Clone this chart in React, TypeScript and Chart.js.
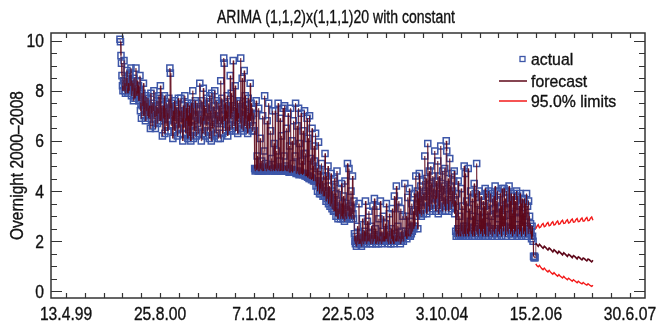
import React, { useEffect, useRef } from 'react';
import { Chart, registerables } from 'chart.js';

Chart.register(...registerables);

// ---------- data ----------
const EPOCH = '1999-04-13'; // day 0 of the x axis
const xTickLabels = ['13.4.99', '25.8.00', '7.1.02', '22.5.03', '3.10.04', '15.2.06', '30.6.07'];
const xLabelEveryDays = 500;
const yTickLabels = ['0', '2', '4', '6', '8', '10'];

const chartTitle = 'ARIMA (1,1,2)x(1,1,1)20 with constant';
const yAxisTitle = 'Overnight 2000\u20132008';

const actualStart = '2000-01-25';
const actualEnd = '2006-02-10';
const forecastStart = '2006-02-14';
const forecastEnd = '2006-12-15';

const actual = [
  10.05, 9.95, 9.4, 9.1, 8.6, 8.2, 8.0, 8.4, 9.2, 8.3, 8.0, 7.9, 8.5, 8.2, 8.8, 8.1, 7.9, 8.3, 8.0, 8.6,
  8.7, 8.2, 8.9, 7.8, 8.4, 8.0, 8.3, 7.6, 8.5, 8.1, 7.7, 8.2, 8.9, 8.0, 7.8, 8.4, 7.9, 8.2, 7.6, 8.0,
  8.6, 7.2, 7.5, 6.9, 7.9, 7.4, 7.6, 8.3, 7.0, 7.3, 7.6, 6.8, 7.8, 7.2, 7.5, 7.0, 7.7, 7.3, 6.9, 7.4,
  7.3, 6.5, 7.9, 7.1, 7.4, 6.6, 7.5, 7.2, 8.0, 6.9, 7.2, 6.5, 7.4, 7.0, 7.6, 6.7, 7.3, 7.1, 7.8, 6.8,
  7.7, 8.2, 6.8, 7.1, 7.4, 6.2, 7.0, 7.4, 6.9, 7.8, 6.3, 7.0, 7.3, 6.6, 7.5, 7.1, 6.4, 7.2, 7.7, 6.9,
  8.9, 8.7, 7.3, 6.6, 7.5, 7.0, 6.1, 7.2, 6.8, 7.6, 6.4, 7.1, 7.4, 6.7, 7.3, 6.2, 7.0, 7.7, 6.5, 7.2,
  7.0, 6.3, 7.7, 6.7, 7.2, 6.9, 6.0, 7.4, 6.5, 7.1, 7.8, 6.9, 6.3, 7.3, 6.8, 7.5, 6.1, 7.0, 6.6, 7.4,
  6.2, 7.1, 6.0, 7.5, 6.6, 7.0, 8.0, 6.1, 7.3, 6.8, 6.4, 7.6, 7.0, 6.2, 7.2, 6.7, 7.5, 6.3, 6.9, 7.3,
  8.3, 6.6, 7.0, 6.0, 7.6, 6.9, 6.3, 8.1, 6.8, 7.4, 7.0, 6.2, 7.3, 6.6, 7.7, 6.4, 7.1, 6.8, 7.5, 6.1,
  7.8, 6.4, 7.2, 6.0, 7.9, 6.8, 6.5, 7.1, 7.4, 6.2, 8.0, 6.9, 7.2, 6.3, 7.6, 6.7, 7.0, 6.1, 7.5, 6.8,
  7.4, 6.1, 8.4, 6.7, 7.7, 7.0, 6.3, 7.3, 9.3, 9.1, 6.8, 7.5, 6.4, 7.2, 6.9, 7.8, 6.2, 7.0, 7.4, 6.6,
  6.4, 8.6, 6.9, 7.9, 7.1, 6.5, 7.4, 9.2, 7.2, 6.6, 7.0, 8.2, 6.4, 7.3, 6.8, 7.6, 6.3, 7.1, 6.9, 7.5,
  7.6, 6.7, 9.3, 6.5, 7.2, 8.5, 7.0, 6.4, 7.3, 8.8, 6.6, 7.8, 6.9, 6.5, 7.4, 7.0, 6.3, 7.7, 6.8, 7.1,
  6.5, 8.3, 6.8, 7.5, 7.0, 6.4, 7.3, 6.6, 7.1, 6.4,
  4.9, 4.8, 4.85, 7.6, 4.85, 5.4, 4.9, 4.8, 7.3, 4.8, 4.9, 6.1, 4.9, 4.85, 5.2, 4.8, 7.0, 4.9, 4.8, 5.6,
  7.8, 4.9, 5.1, 4.8, 4.9, 6.8, 4.9, 4.85, 7.5, 5.0, 4.85, 4.8, 6.4, 4.9, 5.3, 4.8, 7.2, 4.85, 4.9, 5.9,
  4.8, 7.2, 4.9, 4.85, 5.6, 4.8, 4.9, 7.5, 4.9, 4.8, 5.2, 6.9, 4.8, 4.85, 6.2, 4.8, 4.9, 7.3, 4.8, 5.4,
  7.4, 4.85, 5.0, 4.8, 6.5, 4.8, 4.9, 7.1, 4.9, 4.75, 5.8, 4.75, 7.3, 4.8, 4.85, 6.0, 4.75, 5.1, 6.8, 4.8,
  4.8, 5.4, 7.5, 4.7, 4.75, 6.6, 4.8, 4.7, 7.3, 4.65, 5.9, 4.7, 4.75, 7.1, 4.7, 5.2, 4.65, 6.4, 4.7, 5.5,
  7.2, 4.6, 5.5, 4.7, 4.6, 6.9, 4.55, 6.1, 4.6, 4.5, 7.0, 4.5, 5.3, 4.55, 4.45, 6.5, 4.5, 5.0, 4.4, 5.8,
  5.2, 4.4, 6.3, 4.2, 4.4, 4.9, 4.0, 4.3, 5.95, 4.3, 3.9, 4.8, 4.1, 3.9, 5.1, 4.0, 4.4, 3.8, 4.6, 4.0,
  3.8, 5.5, 4.0, 3.6, 4.6, 3.7, 3.9, 5.0, 3.5, 3.8, 4.2, 3.4, 3.7, 4.7, 3.5, 3.3, 4.0, 3.6, 3.2, 4.4,
  4.5, 3.2, 3.9, 3.0, 3.4, 4.8, 3.3, 2.9, 3.2, 4.1, 3.1, 3.6, 2.9, 3.3, 4.3, 3.0, 3.5, 2.9, 3.8, 3.1,
  2.8, 4.4, 3.0, 3.5, 2.9, 3.2, 5.1, 3.2, 3.0, 4.9, 2.9, 3.4, 3.0, 4.0, 2.9, 3.3, 4.6, 3.1, 2.9, 3.6,
  2.3, 2.0, 1.9, 2.2, 1.8, 2.0, 2.6, 2.0, 1.9, 3.5, 2.1, 1.9, 2.0, 2.3, 1.8, 2.1, 2.9, 2.0, 1.9, 2.2,
  2.4, 2.0, 3.6, 2.2, 1.9, 2.1, 2.8, 2.0, 2.1, 3.2, 2.0, 2.3, 1.9, 2.0, 2.6, 2.1, 1.9, 3.4, 2.0, 2.2,
  3.7, 2.1, 2.5, 1.9, 2.0, 3.4, 2.2, 2.0, 1.9, 2.9, 2.1, 2.0, 3.6, 2.2, 1.9, 2.4, 2.0, 2.1, 3.0, 2.0,
  2.2, 2.0, 2.7, 2.1, 3.5, 2.1, 2.0, 2.4, 1.9, 2.1, 3.1, 2.2, 2.0, 1.9, 2.5, 2.1, 3.3, 2.0, 2.2, 1.9,
  3.8, 2.3, 2.1, 2.0, 4.2, 2.0, 2.2, 2.6, 2.0, 3.6, 2.2, 2.1, 1.9, 3.3, 2.0, 2.4, 2.1, 3.0, 2.0, 2.2,
  2.2, 4.3, 2.4, 2.2, 3.0, 2.1, 2.3, 3.75, 2.3, 2.2, 4.1, 2.5, 2.2, 2.8, 2.3, 3.5, 2.4, 2.6, 3.2, 2.5,
  3.9, 2.6, 3.2, 4.6, 3.0, 3.5, 4.0, 2.5, 3.7, 3.2, 4.7, 3.1, 3.6, 4.2, 3.0, 3.8, 3.3, 4.4, 3.1, 3.9,
  3.3, 5.4, 3.6, 4.0, 4.5, 3.1, 3.8, 5.9, 3.4, 4.2, 4.8, 3.2, 3.9, 5.0, 3.5, 4.3, 3.3, 4.6, 3.7, 4.1,
  3.5, 5.6, 3.8, 3.2, 4.4, 3.7, 4.1, 5.2, 3.1, 3.9, 4.6, 3.3, 4.0, 5.8, 3.6, 4.3, 3.2, 4.8, 3.5, 4.2,
  3.4, 4.9, 3.8, 3.2, 6.0, 5.6, 3.5, 4.1, 4.5, 3.2, 3.9, 5.3, 3.6, 4.2, 3.3, 4.7, 3.5, 4.0, 3.4, 4.4,
  4.8, 3.1, 3.6, 2.4, 2.2, 3.9, 2.3, 2.5, 4.4, 2.2, 2.5, 3.0, 2.3, 2.2, 4.1, 2.4, 2.3, 3.4, 2.2, 2.6,
  5.0, 2.3, 4.7, 2.2, 2.6, 3.6, 2.5, 2.3, 4.9, 2.2, 3.3, 2.4, 2.8, 4.0, 2.3, 2.5, 3.7, 2.2, 3.0, 2.4,
  4.3, 2.2, 3.9, 2.6, 2.4, 5.1, 2.3, 3.5, 2.2, 2.7, 4.0, 2.5, 3.2, 2.3, 3.8, 2.4, 2.9, 2.2, 3.6, 2.5,
  3.4, 2.3, 4.1, 2.2, 2.8, 3.9, 2.6, 3.2, 2.2, 4.0, 2.4, 3.5, 2.3, 3.9, 2.5, 3.0, 2.2, 3.7, 2.4, 3.3,
  3.8, 2.3, 4.2, 2.5, 3.1, 3.6, 2.2, 4.0, 2.4, 2.9, 3.3, 2.3, 3.9, 2.5, 3.4, 2.2, 4.1, 2.6, 3.0, 2.4,
  4.1, 2.6, 3.7, 2.2, 3.3, 4.0, 2.4, 3.5, 2.3, 2.8, 4.2, 2.5, 3.6, 2.3, 3.9, 2.4, 3.1, 2.2, 3.8, 2.5,
  3.9, 2.3, 3.6, 2.4, 3.2, 4.0, 2.2, 3.8, 2.5, 2.9, 3.4, 2.3, 3.9, 2.4, 3.5, 2.2, 3.7, 2.6, 3.1, 2.3,
  3.7, 2.4, 3.5, 2.2, 3.0, 3.9, 2.6, 3.4, 2.3, 3.6, 2.5, 3.0, 2.3, 2.7, 2.4, 2.1, 2.6, 2.2, 2.0, 1.4, 1.35, 1.4, 1.35,
];

const forecast = [
  1.92, 1.86, 1.80, 1.88, 1.83, 1.77, 1.72, 1.80,
  1.76, 1.70, 1.65, 1.73, 1.69, 1.63, 1.58, 1.66,
  1.62, 1.57, 1.52, 1.60, 1.56, 1.51, 1.46, 1.54,
  1.50, 1.45, 1.40, 1.48, 1.45, 1.40, 1.35, 1.43,
  1.40, 1.35, 1.30, 1.38, 1.35, 1.30, 1.26, 1.33,
  1.31, 1.26, 1.22, 1.29, 1.27, 1.22, 1.18, 1.24,
];

const upperLimit = [
  2.50, 2.60, 2.66, 2.54, 2.57, 2.66, 2.71, 2.58,
  2.61, 2.70, 2.75, 2.62, 2.64, 2.73, 2.78, 2.65,
  2.67, 2.76, 2.81, 2.68, 2.70, 2.79, 2.84, 2.71,
  2.72, 2.81, 2.86, 2.73, 2.75, 2.84, 2.89, 2.76,
  2.77, 2.86, 2.91, 2.78, 2.79, 2.88, 2.93, 2.80,
  2.81, 2.90, 2.95, 2.82, 2.83, 2.92, 2.97, 2.84,
];

const lowerLimit = [
  1.10, 1.02, 0.98, 1.04, 0.97, 0.91, 0.87, 0.93,
  0.87, 0.82, 0.78, 0.84, 0.78, 0.73, 0.69, 0.75,
  0.70, 0.65, 0.61, 0.67, 0.62, 0.58, 0.54, 0.60,
  0.55, 0.51, 0.47, 0.53, 0.49, 0.45, 0.41, 0.47,
  0.43, 0.39, 0.35, 0.41, 0.37, 0.33, 0.30, 0.36,
  0.32, 0.28, 0.25, 0.31, 0.27, 0.23, 0.20, 0.25,
];

// ---------- styling ----------
const FONT = "'Liberation Sans', Arial, sans-serif";
const BLUE = '#3d56a8';
const MAROON = '#5e0719';
const RED = '#f31a1a';
const FRAME = '#333333';
const TEXT = '#111111';

const dayOf = (iso: string) => (Date.parse(iso) - Date.parse(EPOCH)) / 86400000;

function spread(values: number[], startIso: string, endIso: string) {
  const s = dayOf(startIso);
  const e = dayOf(endIso);
  const step = values.length > 1 ? (e - s) / (values.length - 1) : 0;
  return values.map((v, i) => ({ x: s + i * step, y: v }));
}

const isMultiple = (v: number, m: number) => Math.abs(v / m - Math.round(v / m)) < 1e-6;

function condensedText(ctx: CanvasRenderingContext2D, text: string, x: number, y: number, size: number, sx: number, align: CanvasTextAlign) {
  ctx.save();
  ctx.translate(x, y);
  ctx.scale(sx, 1);
  ctx.font = `${size}px ${FONT}`;
  ctx.textAlign = align;
  ctx.textBaseline = 'alphabetic';
  ctx.fillStyle = TEXT;
  ctx.strokeStyle = TEXT;
  ctx.lineWidth = 0.35;
  ctx.fillText(text, 0, 0);
  ctx.strokeText(text, 0, 0);
  ctx.restore();
}

const decorPlugin = {
  id: 'decor',
  afterDatasetsDraw(chart: any) {
    const { ctx, chartArea, scales } = chart;
    const { left, right, top, bottom } = chartArea;
    const xs = scales.x;
    const ys = scales.y;
    ctx.save();
    // frame
    ctx.strokeStyle = FRAME;
    ctx.lineWidth = 1.5;
    ctx.strokeRect(left, top, right - left, bottom - top);
    // inward ticks
    ctx.lineWidth = 1.2;
    ctx.beginPath();
    xs.ticks.forEach((t: any) => {
      const px = Math.round(xs.getPixelForValue(t.value)) + 0.5;
      ctx.moveTo(px, bottom);
      ctx.lineTo(px, bottom - 5);
      ctx.moveTo(px, top);
      ctx.lineTo(px, top + 5);
    });
    ys.ticks.forEach((t: any) => {
      const py = Math.round(ys.getPixelForValue(t.value)) + 0.5;
      const len = isMultiple(t.value, 2) ? 11 : 6;
      ctx.moveTo(left, py);
      ctx.lineTo(left + len, py);
      ctx.moveTo(right, py);
      ctx.lineTo(right - len, py);
    });
    ctx.stroke();

    // tick labels
    xs.ticks.forEach((t: any) => {
      if (!isMultiple(t.value, xLabelEveryDays)) return;
      const label = xTickLabels[Math.round(t.value / xLabelEveryDays)];
      if (!label) return;
      condensedText(ctx, label, xs.getPixelForValue(t.value), bottom + 22, 18, 0.87, 'center');
    });
    ys.ticks.forEach((t: any) => {
      if (!isMultiple(t.value, 2)) return;
      const label = yTickLabels[Math.round(t.value / 2)];
      if (!label) return;
      condensedText(ctx, label, left - 7, ys.getPixelForValue(t.value) + 6.5, 18, 0.87, 'right');
    });

    // title
    condensedText(ctx, chartTitle, 336, 23, 18, 0.78, 'center');

    // y axis title
    ctx.save();
    ctx.translate(23, (top + bottom) / 2);
    ctx.rotate(-Math.PI / 2);
    condensedText(ctx, yAxisTitle, 0, 0, 18, 0.86, 'center');
    ctx.restore();

    // legend
    const ds = chart.data.datasets;
    const lx = right - 114;
    const base = [top + 32, top + 53.5, top + 74];
    condensedText(ctx, ds[0].label, lx, base[0], 17, 0.93, 'left');
    condensedText(ctx, ds[1].label, lx, base[1], 17, 0.93, 'left');
    condensedText(ctx, ds[2].label, lx, base[2], 17, 0.93, 'left');
    ctx.strokeStyle = BLUE;
    ctx.lineWidth = 1.3;
    ctx.strokeRect(lx - 11, base[0] - 8.5, 5, 5);
    ctx.strokeStyle = MAROON;
    ctx.lineWidth = 1.5;
    ctx.beginPath();
    ctx.moveTo(lx - 32, base[1] - 5.5);
    ctx.lineTo(lx - 4, base[1] - 5.5);
    ctx.stroke();
    ctx.strokeStyle = RED;
    ctx.beginPath();
    ctx.moveTo(lx - 32, base[2] - 6);
    ctx.lineTo(lx - 4, base[2] - 6);
    ctx.stroke();
    ctx.restore();
  },
};

export default function App() {
  const canvasRef = useRef<HTMLCanvasElement | null>(null);

  useEffect(() => {
    const canvas = canvasRef.current;
    if (!canvas) return;
    const actualPts = spread(actual, actualStart, actualEnd);
    const forecastPts = spread(forecast, forecastStart, forecastEnd);
    const upperPts = spread(upperLimit, forecastStart, forecastEnd);
    const lowerPts = spread(lowerLimit, forecastStart, forecastEnd);
    const lastActualIndex = actual.length - 1;

    const chart = new Chart(canvas, {
      type: 'line',
      data: {
        datasets: [
          {
            label: 'actual',
            data: actualPts,
            showLine: false,
            pointStyle: 'rect',
            pointRadius: 4.3,
            pointBorderWidth: 1.5,
            pointBorderColor: BLUE,
            pointBackgroundColor: 'rgba(0,0,0,0)',
            borderColor: BLUE,
            order: 2,
          },
          {
            label: 'forecast',
            data: [...actualPts, ...forecastPts],
            borderColor: MAROON,
            borderWidth: 0.65,
            segment: {
              borderWidth: (c: any) => (c.p0DataIndex >= lastActualIndex + 1 ? 1.6 : 0.65),
            },
            pointRadius: 0,
            tension: 0,
            fill: false,
            order: 1,
          },
          {
            label: '95.0% limits',
            data: upperPts,
            borderColor: RED,
            borderWidth: 1.4,
            pointRadius: 0,
            tension: 0,
            fill: false,
            order: 0,
          },
          {
            label: '95.0% limits',
            data: lowerPts,
            borderColor: RED,
            borderWidth: 1.4,
            pointRadius: 0,
            tension: 0,
            fill: false,
            order: 0,
          },
        ],
      },
      options: {
        animation: false,
        responsive: true,
        maintainAspectRatio: false,
        parsing: false,
        layout: { padding: { top: 33, right: 13, left: 0, bottom: 0 } },
        plugins: {
          legend: { display: false },
          title: { display: false },
          tooltip: { enabled: false },
        },
        scales: {
          x: {
            type: 'linear',
            min: -80,
            max: 3080,
            grid: { display: false, drawTicks: false },
            border: { display: false },
            ticks: { display: false, stepSize: 100, includeBounds: false, autoSkip: false },
            afterFit: (s: any) => { s.height = 28; },
          },
          y: {
            type: 'linear',
            min: -0.26,
            max: 10.3,
            grid: { display: false, drawTicks: false },
            border: { display: false },
            ticks: { display: false, stepSize: 0.5, includeBounds: false, autoSkip: false },
            afterFit: (s: any) => { s.width = 51; },
          },
        },
      },
      plugins: [decorPlugin],
    });
    return () => chart.destroy();
  }, []);

  return (
    <div style={{ position: 'fixed', left: 0, top: 0, width: 658, height: 326, background: '#fff' }}>
      <canvas ref={canvasRef} />
    </div>
  );
}
